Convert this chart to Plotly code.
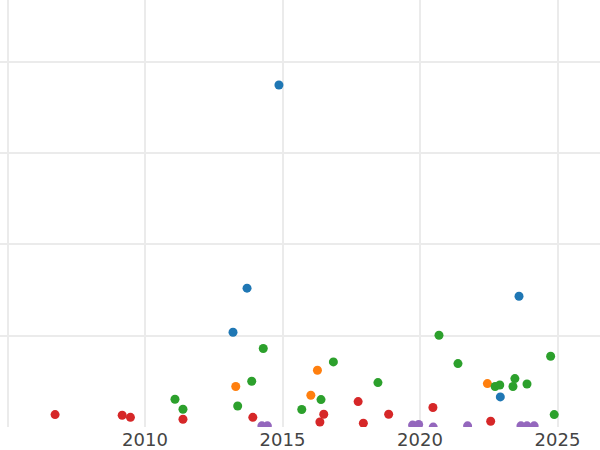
import plotly.graph_objects as go

# Category series: (x = year, y = value)
blue_x = [2014.87, 2013.71, 2013.20, 2023.60, 2022.92]
blue_y = [374.5, 152.2, 104.0, 143.4, 33.2]

orange_x = [2013.30, 2016.27, 2016.03, 2022.45]
orange_y = [44.6, 62.4, 35.0, 47.8]

green_x = [2011.09, 2011.38, 2013.37, 2013.88, 2014.30, 2015.70, 2016.40, 2016.85,
           2018.47, 2020.69, 2021.38, 2022.73, 2022.90, 2023.45, 2023.38, 2023.89,
           2024.75, 2024.88]
green_y = [30.7, 19.7, 23.3, 50.4, 86.2, 19.4, 30.3, 71.5,
           48.9, 100.7, 69.7, 44.6, 46.3, 53.3, 44.6, 47.4,
           77.7, 13.9]

red_x = [2006.73, 2009.17, 2009.47, 2011.38, 2013.92, 2016.50, 2016.36, 2017.75,
         2017.94, 2018.86, 2020.47, 2022.57]
red_y = [13.9, 13.1, 10.9, 8.8, 10.9, 14.2, 5.8, 28.1,
         4.4, 14.2, 21.6, 6.6]

purple_x = [2014.25, 2014.45, 2019.73, 2019.95, 2020.48, 2021.73, 2023.67, 2023.89, 2024.15]
purple_y = [1.6, 1.6, 2.4, 3.0, 0.2, 1.6, 1.6, 1.6, 1.6]

x_tick_vals = [2005, 2010, 2015, 2020, 2025]
x_tick_text = ["", "2010", "2015", "2020", "2025"]

series = [
    ("A", blue_x, blue_y, "#1f77b4"),
    ("B", orange_x, orange_y, "#ff7f0e"),
    ("C", green_x, green_y, "#2ca02c"),
    ("D", red_x, red_y, "#d62728"),
    ("E", purple_x, purple_y, "#9467bd"),
]

fig = go.Figure()
for name, xs, ys, col in series:
    fig.add_trace(go.Scatter(x=xs, y=ys, mode="markers", name=name,
                             marker=dict(color=col, size=9),
                             showlegend=False))

fig.update_layout(
    width=600, height=450,
    margin=dict(l=0, r=0, t=0, b=23),
    paper_bgcolor="white", plot_bgcolor="white",
    font=dict(family="DejaVu Sans", size=18, color="#444"),
    xaxis=dict(range=[2004.727, 2026.545], tickvals=x_tick_vals, ticktext=x_tick_text,
               showgrid=True, gridcolor="#ebebeb", gridwidth=1.5,
               zeroline=False, showline=False, ticks=""),
    yaxis=dict(range=[0.3, 467.5], dtick=100, showticklabels=False,
               showgrid=True, gridcolor="#ebebeb", gridwidth=1.5,
               zeroline=False, showline=False, ticks=""),
)

fig.write_html("out.html",
               config={"displayModeBar": False},
               post_script="document.body.style.margin='0';"
                           "document.documentElement.style.overflow='hidden';")
